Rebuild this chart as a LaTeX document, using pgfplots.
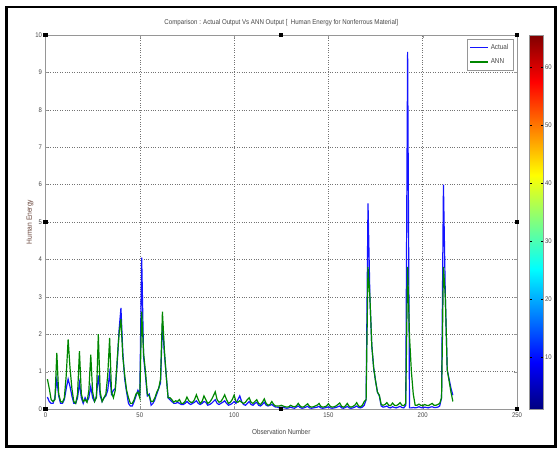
\documentclass[border=0pt]{standalone}
\usepackage{pgfplots}
\pgfplotsset{compat=1.18}
\usepackage{pgfplotstable}
\usetikzlibrary{calc}
\usepackage{fontspec}
\setmainfont[FakeStretch=0.88]{Liberation Sans}
\definecolor{axgray}{RGB}{150,150,150}
\definecolor{txtgray}{RGB}{70,70,70}
\definecolor{ylab}{RGB}{105,70,60}
\definecolor{anngreen}{RGB}{0,135,0}
\definecolor{actblue}{RGB}{20,20,255}
\pgfplotstableread{
x a n
1 0.32 0.80
2 0.20 0.55
3 0.15 0.25
4 0.15 0.20
5 0.30 0.25
6 0.80 1.50
7 0.35 0.40
8 0.15 0.20
9 0.15 0.18
10 0.25 0.30
11 0.55 0.90
12 0.80 1.86
13 0.60 1.10
14 0.35 0.55
15 0.15 0.20
16 0.15 0.15
17 0.30 0.40
18 0.70 1.55
19 0.30 0.40
20 0.15 0.20
21 0.30 0.25
22 0.20 0.18
23 0.30 0.50
24 0.60 1.45
25 0.30 0.45
26 0.20 0.20
27 0.35 0.30
28 0.90 2.00
29 0.35 0.45
30 0.20 0.20
31 0.30 0.30
32 0.35 0.40
33 0.50 0.90
34 0.95 1.90
35 0.40 0.45
36 0.50 0.30
37 0.55 0.50
38 1.20 1.30
39 2.10 2.00
40 2.70 2.40
41 1.50 1.40
42 0.80 0.90
43 0.45 0.50
44 0.15 0.30
45 0.08 0.15
46 0.08 0.15
47 0.20 0.25
48 0.35 0.40
49 0.50 0.45
50 0.40 0.30
51 4.05 2.60
52 1.40 1.50
53 0.90 1.00
54 0.35 0.40
55 0.40 0.35
56 0.10 0.20
57 0.15 0.20
58 0.25 0.30
59 0.40 0.45
60 0.55 0.55
61 0.70 0.80
62 2.30 2.60
63 1.50 1.60
64 0.90 0.90
65 0.30 0.30
66 0.25 0.30
67 0.20 0.25
68 0.15 0.18
69 0.15 0.22
70 0.18 0.20
71 0.15 0.25
72 0.12 0.15
73 0.12 0.15
74 0.15 0.20
75 0.20 0.32
76 0.15 0.22
77 0.12 0.18
78 0.15 0.18
79 0.18 0.25
80 0.22 0.38
81 0.15 0.25
82 0.12 0.15
83 0.15 0.20
84 0.20 0.35
85 0.18 0.25
86 0.10 0.15
87 0.12 0.18
88 0.15 0.25
89 0.20 0.35
90 0.25 0.46
91 0.15 0.25
92 0.12 0.18
93 0.15 0.20
94 0.18 0.28
95 0.22 0.38
96 0.15 0.25
97 0.10 0.15
98 0.12 0.18
99 0.15 0.25
100 0.20 0.37
101 0.15 0.20
102 0.25 0.18
103 0.35 0.22
104 0.20 0.18
105 0.12 0.15
106 0.10 0.18
107 0.15 0.25
108 0.20 0.30
109 0.12 0.18
110 0.10 0.15
111 0.15 0.20
112 0.18 0.25
113 0.10 0.15
114 0.08 0.12
115 0.12 0.18
116 0.18 0.27
117 0.10 0.15
118 0.08 0.10
119 0.10 0.12
120 0.12 0.20
121 0.08 0.12
122 0.05 0.08
123 0.05 0.08
124 0.03 0.08
125 0.05 0.10
126 0.04 0.08
127 0.03 0.06
128 0.02 0.05
129 0.03 0.06
130 0.05 0.10
131 0.03 0.07
132 0.02 0.06
133 0.05 0.08
134 0.08 0.15
135 0.04 0.08
136 0.02 0.05
137 0.03 0.06
138 0.05 0.10
139 0.07 0.14
140 0.03 0.07
141 0.02 0.05
142 0.03 0.06
143 0.04 0.08
144 0.05 0.10
145 0.07 0.15
146 0.03 0.07
147 0.02 0.05
148 0.03 0.06
149 0.04 0.08
150 0.06 0.14
151 0.03 0.07
152 0.02 0.05
153 0.03 0.06
154 0.04 0.08
155 0.06 0.12
156 0.08 0.16
157 0.03 0.07
158 0.02 0.05
159 0.04 0.08
160 0.07 0.15
161 0.03 0.07
162 0.02 0.05
163 0.03 0.07
164 0.05 0.10
165 0.08 0.17
166 0.04 0.08
167 0.03 0.06
168 0.05 0.10
169 0.10 0.20
170 0.25 0.25
171 5.50 3.80
172 3.00 3.00
173 1.70 1.70
174 1.10 1.10
175 0.75 0.75
176 0.45 0.45
177 0.35 0.37
178 0.08 0.12
179 0.05 0.10
180 0.06 0.12
181 0.08 0.17
182 0.04 0.10
183 0.03 0.09
184 0.06 0.16
185 0.04 0.10
186 0.03 0.09
187 0.05 0.12
188 0.07 0.17
189 0.04 0.10
190 0.03 0.09
191 0.10 0.15
192 9.55 3.80
193 0.03 1.95
194 0.03 1.00
195 0.04 0.40
196 0.03 0.10
197 0.04 0.10
198 0.06 0.13
199 0.04 0.10
200 0.03 0.09
201 0.05 0.12
202 0.04 0.10
203 0.03 0.09
204 0.05 0.12
205 0.06 0.15
206 0.04 0.10
207 0.04 0.10
208 0.05 0.12
209 0.08 0.15
210 0.30 0.30
211 6.00 3.80
212 3.00 3.00
213 1.05 1.05
214 0.80 0.75
215 0.55 0.45
216 0.37 0.20
}\datatable
\begin{document}
\begin{tikzpicture}
\begin{pgfinterruptboundingbox}
\begin{axis}[
  name=main,
  scale only axis, width=471.5bp, height=374bp,
  xmin=0, xmax=250, ymin=0, ymax=10,
  xtick={0,50,...,250}, ytick={0,1,...,10},
  grid=major,
  major grid style={dotted, color=black!55, line width=0.5bp},
  axis line style={axgray, line width=0.9bp},
  tick align=inside, major tick length=3bp,
  tick style={axgray},
  /pgf/number format/assume math mode=true,
  ticklabel style={font=\fontsize{6.8}{8}\selectfont, text=txtgray},
  every axis title shift=0pt,
  title={Comparison : Actual Output Vs ANN Output [~~Human Energy for Nonferrous Material]},
  title style={at={(axis description cs:0.5,1.032)}, anchor=center, yshift=0pt, font=\fontsize{7}{8}\selectfont, text=txtgray},
  xlabel={Observation Number},
  xlabel style={at={(axis description cs:0.5,-0.0615)}, anchor=center, font=\fontsize{7.2}{8}\selectfont, text=txtgray},
  ylabel={Human Energy},
  ylabel style={at={(axis description cs:-0.033,0.5)}, anchor=center, font=\fontsize{7.6}{8}\selectfont, text=ylab},
  legend style={at={(1,1)}, anchor=north east, xshift=-4bp, yshift=-4bp, draw=axgray, font=\fontsize{7.2}{8}\selectfont, inner xsep=2.5bp, inner ysep=3bp, row sep=4bp},
  legend cell align=left,
  colorbar,
  colormap/jet,
  point meta min=1, point meta max=65.5,
  colorbar style={
    at={(parent axis.north east)}, anchor=north west, xshift=4bp,
    scale only axis, width=14bp, height=374bp,
    ytick={10,20,...,60},
    axis line style={axgray, line width=0.8bp},
    tick align=inside, major tick length=2.5bp,
    tick style={black},
    yticklabel pos=right,
    /pgf/number format/assume math mode=true,
    yticklabel style={font=\fontsize{6.8}{8}\selectfont, text=txtgray, xshift=-2bp},
  },
]
\addplot[color=actblue, line width=1.2bp, forget plot] table[x=x, y=a] {\datatable};
\addplot[color=anngreen, line width=1.2bp, forget plot] table[x=x, y=n] {\datatable};
\addlegendimage{legend image code/.code={\draw[actblue, line width=1.5bp] (0bp,0bp) -- (18bp,0bp);}}
\addlegendentry{\textcolor{txtgray}{Actual}}
\addlegendimage{legend image code/.code={\draw[anngreen, line width=1.5bp] (0bp,0bp) -- (18bp,0bp);}}
\addlegendentry{\textcolor{txtgray}{ANN}}
\end{axis}
\foreach \a in {south west, south, south east, west, east, north west, north, north east}{
  \fill[black] (main.\a) +(-2bp,-2bp) rectangle +(2bp,2bp);
}
\end{pgfinterruptboundingbox}
\coordinate (O) at ($(main.south west)+(-45.5bp,-41bp)$);
\useasboundingbox (O) rectangle ++(559bp,450bp);
\draw[black, line width=2.2bp] ($(O)+(6.5bp,3.5bp)$) rectangle ($(O)+(555.5bp,443bp)$);
\end{tikzpicture}
\end{document}
